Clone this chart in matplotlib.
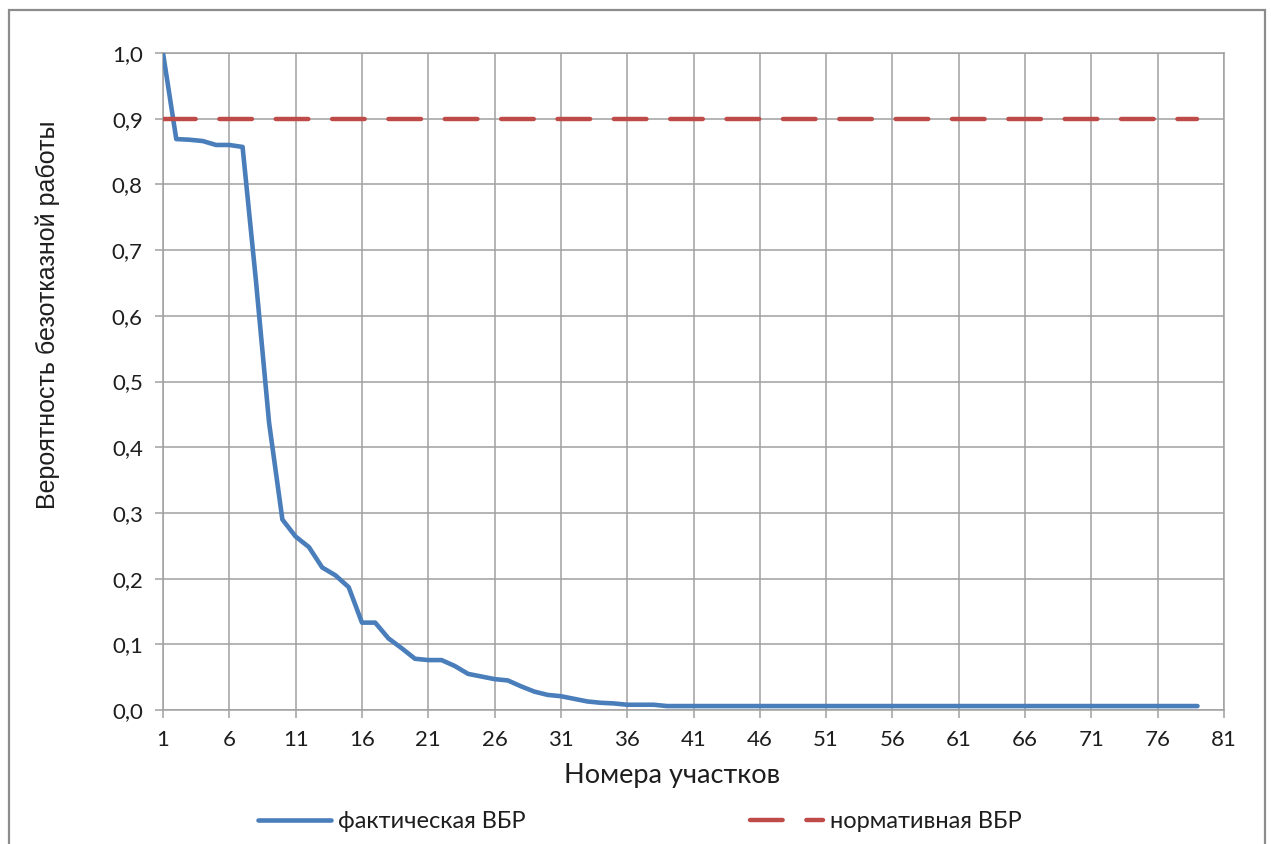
"""
Вероятность безотказной работы по участкам
"""
import matplotlib
matplotlib.use("Agg")
import matplotlib.pyplot as plt
from matplotlib.patches import Rectangle
from matplotlib.ticker import FuncFormatter

# Номера участков и фактическая ВБР
SECTIONS = list(range(1, 80))
ACTUAL = [1.000, 0.869, 0.868, 0.866, 0.860, 0.860, 0.857, 0.655, 0.437, 0.290,
          0.264, 0.248, 0.217, 0.205, 0.187, 0.133, 0.133, 0.109, 0.094, 0.078,
          0.076, 0.076, 0.067, 0.055, 0.051, 0.047, 0.045, 0.036, 0.028, 0.023,
          0.021, 0.017, 0.013, 0.011, 0.010, 0.008, 0.008, 0.008, 0.006, 0.006,
          0.006, 0.006, 0.006, 0.006, 0.006, 0.006, 0.006, 0.006, 0.006, 0.006,
          0.006, 0.006, 0.006, 0.006, 0.006, 0.006, 0.006, 0.006, 0.006, 0.006,
          0.006, 0.006, 0.006, 0.006, 0.006, 0.006, 0.006, 0.006, 0.006, 0.006,
          0.006, 0.006, 0.006, 0.006, 0.006, 0.006, 0.006, 0.006, 0.006]
NORM_LEVEL = 0.9
NORMATIVE = [NORM_LEVEL for _ in SECTIONS]

X_TICKS = list(range(1, 82, 5))
Y_TICKS = [i / 10 for i in range(11)]

BLUE = "#4A7EBB"
RED = "#BE4B48"
GRID = "#A0A0A0"
TEXT = "#1E1E1E"
FONT = ["Lato", "DejaVu Sans"]

W, H = 1271, 844
fig = plt.figure(figsize=(W / 100, H / 100), dpi=100, facecolor="white")
ax = fig.add_axes([163 / W, 1 - 710 / H, (1224 - 163) / W, (710 - 53) / H])

line_fact, = ax.plot(SECTIONS, ACTUAL, color=BLUE, lw=3.3,
                     solid_capstyle="round", solid_joinstyle="round", zorder=3)
line_norm, = ax.plot(SECTIONS, NORMATIVE, color=RED, lw=3.2,
                     dashes=(7.34, 5.34), dash_capstyle="round", zorder=3)

ax.set_xlim(1, 81)
ax.set_ylim(0, 1)
ax.set_xticks(X_TICKS)
ax.set_yticks(Y_TICKS)
ax.yaxis.set_major_formatter(FuncFormatter(lambda v, _: f"{v:.1f}".replace(".", ",")))
ax.grid(True, color=GRID, lw=1.1, zorder=0)
ax.set_axisbelow(True)
for sp in ax.spines.values():
    sp.set_color(GRID)
    sp.set_linewidth(1.1)
ax.tick_params(direction="out", length=5.5, width=1.1, color=GRID,
               labelcolor=TEXT, labelsize=16, pad=9)
for lab in ax.get_xticklabels() + ax.get_yticklabels():
    lab.set_family(FONT)

fig.text(672 / W, 1 - 776 / H, "Номера участков", ha="center", va="center",
         fontsize=19.5, family=FONT, color=TEXT)
fig.text(48 / W, 1 - 315 / H, "Вероятность безотказной работы", ha="center",
         va="center", rotation=90, fontsize=18,
         family=["Liberation Sans", "DejaVu Sans"], color=TEXT)

leg_kw = dict(loc="center left", frameon=False, borderpad=0, borderaxespad=0,
              handlelength=3.1, handletextpad=0.3,
              prop={"family": FONT, "size": 17})
leg1 = fig.legend([line_fact], ["фактическая ВБР"],
                  bbox_to_anchor=(258 / W, 1 - 822 / H), **leg_kw)
for t in leg1.get_texts():
    t.set_color(TEXT)
leg2 = fig.legend([line_norm], ["нормативная ВБР"],
                  bbox_to_anchor=(750 / W, 1 - 822 / H), **leg_kw)
for t in leg2.get_texts():
    t.set_color(TEXT)

# рамка области диаграммы
fig.patches.append(Rectangle((9 / W, -0.05), (1265 - 9) / W, 1.05 - 10 / H,
                             transform=fig.transFigure, fill=False,
                             edgecolor="#8C8C8C", lw=1.6))

fig.savefig("out.png", dpi=100, facecolor="white")
